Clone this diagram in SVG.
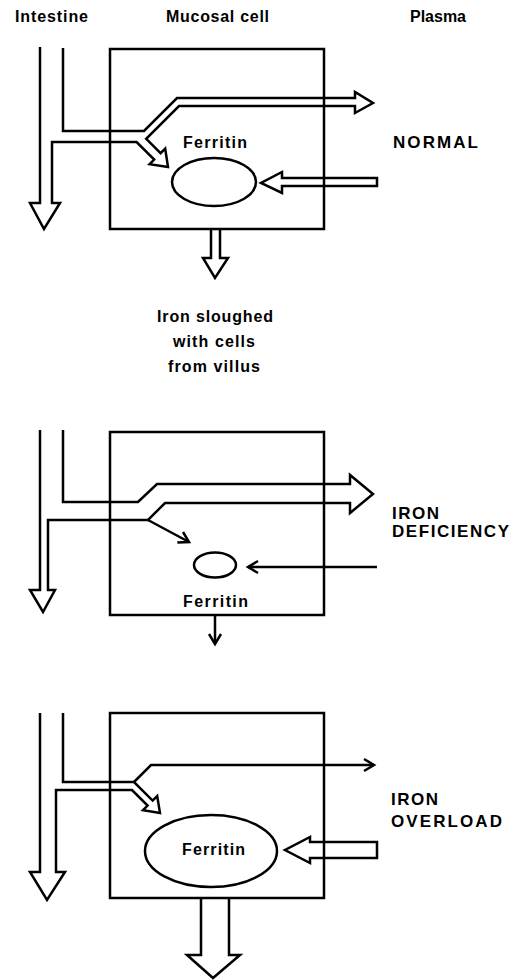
<svg xmlns="http://www.w3.org/2000/svg" width="526" height="980" viewBox="0 0 526 980">
<style>
.ln{fill:none;stroke:#000;stroke-width:2.5;stroke-linejoin:miter;stroke-miterlimit:10}
.hf{fill:#fff;stroke:#000;stroke-width:2.5;stroke-linejoin:miter}
.box{fill:none;stroke:#000;stroke-width:2.5}
.cell{fill:#fff;stroke:#000;stroke-width:2.5}
.t{font-family:"Liberation Sans",Arial,sans-serif;font-weight:bold;font-size:16px;fill:#000}
.c{font-family:"Liberation Sans",Arial,sans-serif;font-weight:bold;font-size:17px;fill:#000}
</style>
<defs>
<marker id="vh" markerUnits="userSpaceOnUse" markerWidth="14" markerHeight="14" refX="0" refY="0" viewBox="-12 -7 14 14" orient="auto" overflow="visible">
<path d="M-10,-6 L0,0 L-10,6" fill="none" stroke="#000" stroke-width="2.5"/>
</marker>
</defs>

<g id="headers">
<text class="t" x="15" y="22" textLength="73" lengthAdjust="spacing">Intestine</text>
<text class="t" x="166" y="22" textLength="103" lengthAdjust="spacing">Mucosal cell</text>
<text class="t" x="410" y="22" textLength="56" lengthAdjust="spacing">Plasma</text>
</g>

<g id="connectors">
<!-- Panel 1: normal -->
<path class="ln" d="M63,48 V131 H144 L177,98 H355 V92 L373,103 L355,113 V106 H179 L146.2,138.8 L160.6,153.2 L165.2,148.6 L168,167 L149.6,164.2 L154.2,159.6 L136.6,142 H52 V203 H60 L44,229 L30,203 H40 V47"/>
<path class="ln" d="M377,178 H282 V172 L261,183 L282,193 V186 H377 Z"/>
<path class="ln" d="M211,229 V258 H203 L215,278 L228,258 H220 V229"/>
<!-- Panel 2: iron deficiency -->
<path class="ln" d="M63,430 V502 H138 L157,484 H350 V475 L373,494 L350,513 V503 H165 L148,520 H48 V590 H55 L43,612 L30,590 H40 V430"/>
<path class="ln" d="M148,520 L189,542" marker-end="url(#vh)"/>
<path class="ln" d="M377,567 H248" marker-end="url(#vh)"/>
<path class="ln" d="M215,615 V644" marker-end="url(#vh)"/>
<!-- Panel 3: iron overload -->
<path class="ln" d="M63,713 V782 H134 L152.6,800.6 L157.2,796 L160,813 L143,810.2 L147.6,805.6 L132,790 H56 V872 H65 L47,900 L30,872 H40 V713"/>
<path class="ln" d="M134,782 L151,765 H374" marker-end="url(#vh)"/>
<path class="ln" d="M377,842 H310 V837 L285,850 L310,863 V858 H377 Z"/>
<path class="ln" d="M201,898 V955 H187 L213,978 L240,955 H229 V898"/>
</g>

<g id="cell-normal">
<rect class="box" x="110" y="49" width="214" height="180"/>
</g>
<g id="ferritin-normal">
<ellipse class="box" cx="214" cy="182" rx="42" ry="24"/>
<text class="t" x="183" y="148" textLength="64" lengthAdjust="spacing">Ferritin</text>
</g>
<g id="label-normal">
<text class="c" x="393" y="148" textLength="85" lengthAdjust="spacing">NORMAL</text>
</g>
<g id="label-sloughed">
<text class="t" x="157" y="322" textLength="116" lengthAdjust="spacing">Iron sloughed</text>
<text class="t" x="173" y="347" textLength="82" lengthAdjust="spacing">with cells</text>
<text class="t" x="168" y="372" textLength="92" lengthAdjust="spacing">from villus</text>
</g>

<g id="cell-deficiency">
<rect class="box" x="110" y="432" width="214" height="183"/>
</g>
<g id="ferritin-deficiency">
<ellipse class="box" cx="215" cy="565" rx="21" ry="12.5"/>
<text class="t" x="183" y="607" textLength="65" lengthAdjust="spacing">Ferritin</text>
</g>
<g id="label-deficiency">
<text class="c" x="392" y="519" textLength="47" lengthAdjust="spacing">IRON</text>
<text class="c" x="392" y="537" textLength="117" lengthAdjust="spacing">DEFICIENCY</text>
</g>

<g id="cell-overload">
<rect class="box" x="110" y="713" width="214" height="185"/>
</g>
<g id="ferritin-overload">
<ellipse class="box" cx="211" cy="851" rx="66" ry="36"/>
<text class="t" x="182" y="855" textLength="63" lengthAdjust="spacing">Ferritin</text>
</g>
<g id="label-overload">
<text class="c" x="391" y="805" textLength="47" lengthAdjust="spacing">IRON</text>
<text class="c" x="391" y="827" textLength="111" lengthAdjust="spacing">OVERLOAD</text>
</g>
</svg>
